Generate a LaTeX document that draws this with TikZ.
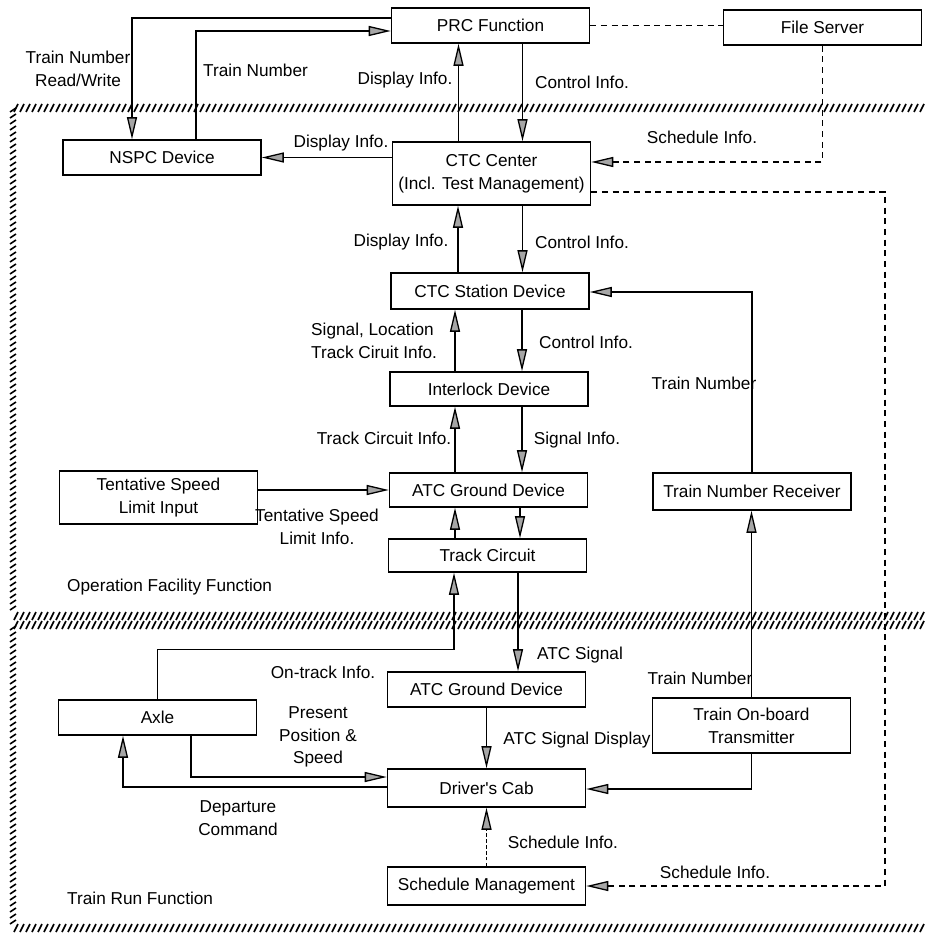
\documentclass[tikz,border=0pt]{standalone}
\usepackage{fontspec}
\setmainfont{Liberation Sans}
\usetikzlibrary{calc,positioning,arrows.meta}
\tikzstyle{box}=[draw,line width=1.3pt,fill=white,minimum width=59.4mm,inner sep=2pt,align=center]
\tikzstyle{arr}=[line width=1.1pt,-{Triangle[length=6.6mm,width=3mm,fill=gray!70]}]
\tikzstyle{dsh}=[dash pattern=on 1.8mm off 1.4mm]
\tikzstyle{hatch}=[line width=1.4pt]
\newcommand{\blk}[5]{\node[box,minimum height=#4*0.3mm] (#1) at (#2,#3) {#5};}
\newcommand{\lbl}[4]{\node[align=center,inner sep=0pt,#3] (#1) at (#2) {#4};}

\begin{document}
\begin{tikzpicture}[x=0.3mm,y=-0.3mm,font=\fontsize{14.7}{19.5}\selectfont]
\useasboundingbox (0,0) rectangle (925,939);

% function borders
\foreach \x in {14,20,...,921} {
  \draw[hatch] (\x,112) -- (\x+4,104);
  \draw[hatch] (\x,620) -- (\x+4,612);
  \draw[hatch] (\x,629) -- (\x+4,621);
  \draw[hatch] (\x,932) -- (\x+4,924);
}
\foreach \y in {110,116,...,612} \draw[hatch] (10,\y+2) -- (16,\y-2);
\foreach \y in {628,634,...,926} \draw[hatch] (10,\y+2) -- (16,\y-2);

% blocks
\blk{prc}{490.5}{25.5}{35}{PRC Function}
\blk{fs}{822.5}{27.5}{35}{File Server}
\blk{nspc}{162}{157.5}{35}{NSPC Device}
\blk{ctc}{491.5}{173.5}{63}{CTC Center\\(Incl. Test Management)}
\blk{ctcs}{490}{291}{36}{CTC Station Device}
\blk{ilk}{489}{389}{34}{Interlock Device}
\blk{atcg}{488.5}{490}{34}{ATC Ground Device}
\blk{tc}{487.5}{555.5}{33}{Track Circuit}
\blk{tsl}{158.5}{497.5}{53}{Tentative Speed\\Limit Input}
\blk{tnr}{752}{491.5}{37}{Train Number Receiver}
\blk{atcg2}{486.5}{689.5}{35}{ATC Ground Device}
\blk{cab}{486.5}{788}{38}{Driver\textquotesingle s Cab}
\blk{sched}{486.5}{886}{38}{Schedule Management}
\blk{axle}{157.5}{717.5}{35}{Axle}
\blk{tot}{751.5}{725.5}{55}{Train On-board\\Transmitter}

% labels
\lbl{l1}{78,69}{}{Train Number\\Read/Write}
\lbl{l2}{203,70}{anchor=west}{Train Number}
\lbl{l3}{341,143}{}{Display Info.}
\lbl{l4}{405,80}{}{Display Info.}
\lbl{l5}{582,82}{}{Control Info.}
\lbl{l6}{702,137}{}{Schedule Info.}
\lbl{l7}{401,242}{}{Display Info.}
\lbl{l8}{582,242}{}{Control Info.}
\lbl{l9}{311,341}{anchor=west,align=left}{Signal, Location\\Track Ciruit Info.}
\lbl{l10}{586,342}{}{Control Info.}
\lbl{l11}{384,438}{}{Track Circuit Info.}
\lbl{l12}{577,440}{}{Signal Info.}
\lbl{l13}{317,527}{}{Tentative Speed\\Limit Info.}
\lbl{l14}{704,383}{}{Train Number}
\lbl{l15}{67,587}{anchor=west}{Operation Facility Function}
\lbl{l16}{323,672}{}{On-track Info.}
\lbl{l17}{580,655}{}{ATC Signal}
\lbl{l18}{700,678}{}{Train Number}
\lbl{l19}{318,737}{}{Present\\Position \&\\Speed}
\lbl{l20}{238,818}{}{Departure\\Command}
\lbl{l21}{577,740}{}{ATC Signal Display}
\lbl{l22}{563,842}{}{Schedule Info.}
\lbl{l23}{715,872}{}{Schedule Info.}
\lbl{l24}{67,898}{anchor=west}{Train Run Function}

% connectors
\draw[arr] ($(prc.west)+(0,-7.5)$) -| ($(nspc.north)+(-30,0)$);
\draw[arr] ($(nspc.north)+(34,0)$) |- ($(prc.west)+(0,5.5)$);
\draw[arr] (ctc.west |- nspc.east) -- (nspc.east);
\draw[arr] ($(ctc.north)+(-33,0)$) coordinate (c1) -- (c1 |- prc.south);
\draw[arr] ($(prc.south)+(32,0)$) coordinate (c2) -- (c2 |- ctc.north);
\draw[dsh,line width=1.1pt] (prc.east) -- (prc.east -| fs.west);
\draw[arr,dsh] (fs.south) |- ($(ctc.east)+(0,-11.5)$);
\coordinate (sc) at (885,886);
\draw[arr,dsh] ($(ctc.east)+(0,18.5)$) -| (sc) -- (sched.east);
\draw[arr] ($(ctcs.north)+(-32,0)$) coordinate (c3) -- (c3 |- ctc.south);
\draw[arr] ($(ctc.south)+(31,0)$) coordinate (c4) -- (c4 |- ctcs.north);
\draw[arr] ($(ilk.north)+(-34,0)$) coordinate (c5) -- (c5 |- ctcs.south);
\draw[arr] ($(ctcs.south)+(32,0)$) coordinate (c6) -- (c6 |- ilk.north);
\draw[arr] ($(atcg.north)+(-33.5,0)$) coordinate (c7) -- (c7 |- ilk.south);
\draw[arr] ($(ilk.south)+(33,0)$) coordinate (c8) -- (c8 |- atcg.north);
\draw[arr] (tsl.east |- atcg.west) -- (atcg.west);
\draw[arr] ($(tc.north)+(-32.5,0)$) coordinate (c9) -- (c9 |- atcg.south);
\draw[arr] ($(atcg.south)+(31.5,0)$) coordinate (c10) -- (c10 |- tc.north);
\draw[arr] (axle.north) |- ($(tc.south)+(-33.5,77)$) -- ($(tc.south)+(-33.5,0)$);
\draw[arr] ($(tc.south)+(30.5,0)$) coordinate (c11) -- (c11 |- atcg2.north);
\draw[arr] (atcg2.south) -- (cab.north);
\draw[arr] ($(axle.south)+(33.5,0)$) |- ($(cab.west)+(0,-11)$);
\draw[arr] ($(cab.west)+(0,-1)$) -| ($(axle.south)+(-34.5,0)$);
\draw[arr] (tnr.north) |- ($(ctcs.east)+(0,1)$);
\draw[arr] (tot.north) -- (tot.north |- tnr.south);
\draw[arr] (tot.south) |- ($(cab.east)+(0,1)$);
\draw[arr,densely dashed] (sched.north) -- (cab.south);
\end{tikzpicture}
\end{document}
